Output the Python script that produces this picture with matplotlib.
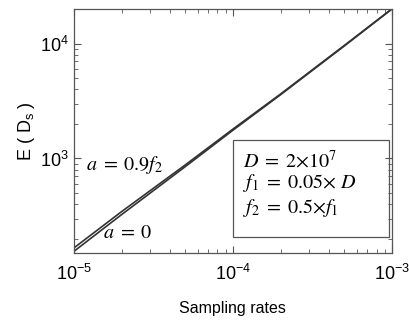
import matplotlib
matplotlib.use("Agg")
import matplotlib.pyplot as plt
from matplotlib.patches import Rectangle

rates = [1e-5, 2e-5, 5e-5, 1e-4, 2e-4, 5e-4, 1e-3]
e_a0 = [155, 325, 845, 1760, 3600, 9500, 20000]
e_a09 = [166, 345, 875, 1800, 3650, 9600, 20100]

xlim = (1e-5, 1e-3)
ylim = (150, 2e4)

plt.rcParams['font.family'] = ['Liberation Sans', 'DejaVu Sans']
plt.rcParams['mathtext.fontset'] = 'custom'
plt.rcParams['mathtext.rm'] = 'Liberation Sans'
plt.rcParams['mathtext.it'] = 'Liberation Sans:italic'

fig = plt.figure(figsize=(4.10, 3.22), dpi=100)
ax = fig.add_axes([0.180, 0.214, 0.776, 0.758])

ax.loglog(rates, e_a0, color='#333333', lw=1.2)
ax.loglog(rates, e_a09, color='#333333', lw=1.2)
ax.set_xlim(*xlim)
ax.set_ylim(*ylim)

for s in ax.spines.values():
    s.set_color('#555555')
    s.set_linewidth(0.9)
ax.tick_params(which='both', direction='in', top=True, right=True, colors='#555555',
               labelcolor='black', labelsize=13)
ax.tick_params(which='major', length=5)
ax.tick_params(which='minor', length=3)
ax.tick_params(axis='x', pad=8)

ax.set_xlabel('Sampling rates', fontsize=11.5, labelpad=12)
ax.set_ylabel(r'E ( D$_\mathrm{s}$ )', fontsize=13, labelpad=2)

fs = 14.5
ax.text(0.038, 0.361, r'$a\;=\;0.9f_{2}$', transform=ax.transAxes, fontsize=fs,
        math_fontfamily='stix', va='center', ha='left')
ax.text(0.091, 0.086, r'$a\;=\;0$', transform=ax.transAxes, fontsize=fs,
        math_fontfamily='stix', va='center', ha='left')

ax.add_patch(Rectangle((0.5, 0.066), 0.491, 0.397, transform=ax.transAxes,
                       fill=False, edgecolor='#555555', lw=0.9))
ax.text(0.531, 0.381, r'$D\;=\;2{\times}10^{7}$', transform=ax.transAxes, fontsize=fs,
        math_fontfamily='stix', va='center', ha='left')
ax.text(0.531, 0.287, r'$f_{1}\;=\;0.05{\times}\ D$', transform=ax.transAxes, fontsize=fs,
        math_fontfamily='stix', va='center', ha='left')
ax.text(0.531, 0.184, r'$f_{2}\;=\;0.5{\times}f_{1}$', transform=ax.transAxes, fontsize=fs,
        math_fontfamily='stix', va='center', ha='left')

fig.savefig('out.png', dpi=100)
